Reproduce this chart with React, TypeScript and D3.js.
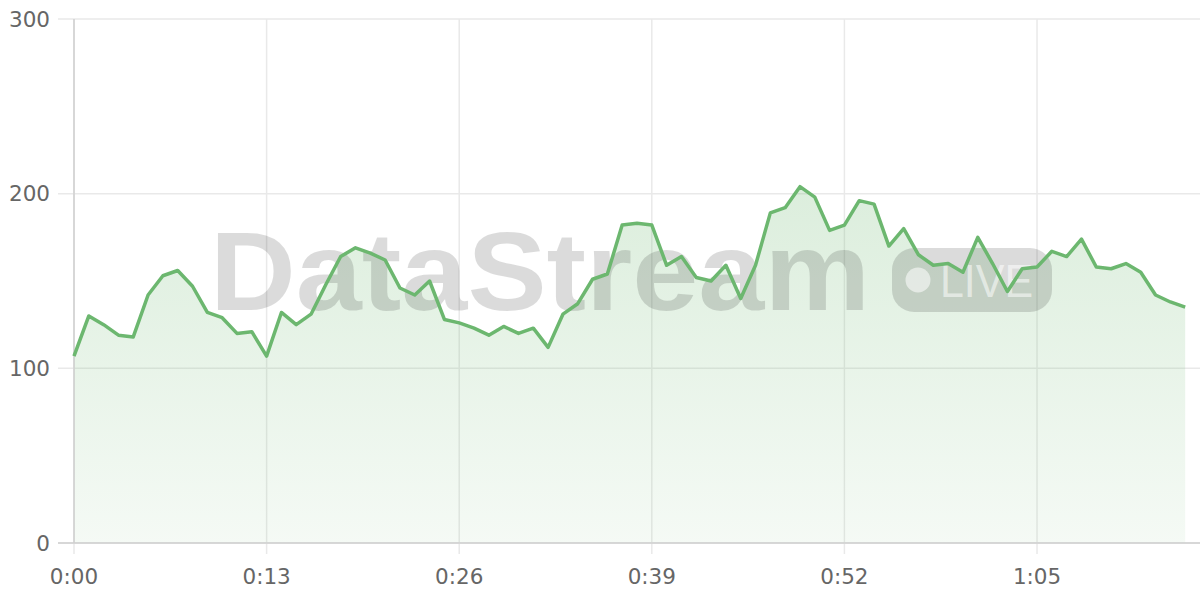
import React from "react";
import * as d3 from "d3";

const seconds: number[] = Array.from({ length: 76 }, (_, i) => i);
const values: number[] = [
  107, 130, 125, 119, 118, 142, 153, 156, 147, 132,
  129, 120, 121, 107, 132, 125, 131, 148, 164, 169,
  166, 162, 146, 142, 150, 128, 126, 123, 119, 124,
  120, 123, 112, 131, 137, 151, 154, 182, 183, 182,
  159, 164, 152, 150, 159, 140, 159, 189, 192, 204,
  198, 179, 182, 196, 194, 170, 180, 165, 159, 160,
  155, 175, 160, 144, 157, 158, 167, 164, 174, 158,
  157, 160, 155, 142, 138, 135,
];
const yTicks: number[] = [0, 100, 200, 300];
const xTicks: number[] = [0, 13, 26, 39, 52, 65];
const watermark = "DataStream";
const badge = "LIVE";

const W = 1200;
const H = 600;
const left = 74;
const right = 1200;
const top = 19;
const bottom = 543;

const fmt = (s: number) => `${Math.floor(s / 60)}:${String(s % 60).padStart(2, "0")}`;

export default function App() {
  const x = d3.scaleLinear().domain([0, 76]).range([left, right]);
  const y = d3.scaleLinear().domain([0, 300]).range([bottom, top]);
  const pts = seconds.map((s, i) => [s, values[i]] as [number, number]);
  const line = d3.line<[number, number]>().x((d) => x(d[0])).y((d) => y(d[1]));
  const area = d3
    .area<[number, number]>()
    .x((d) => x(d[0]))
    .y0(y(0))
    .y1((d) => y(d[1]));
  const font = "'DejaVu Sans', sans-serif";
  return (
    <svg width={W} height={H} style={{ position: "absolute", left: 0, top: 0 }}>
      <defs>
        <linearGradient id="ag" gradientUnits="userSpaceOnUse" x1="0" y1={y(205)} x2="0" y2={y(0)}>
          <stop offset="0%" stopColor="rgb(108,183,111)" stopOpacity={0.24} />
          <stop offset="100%" stopColor="rgb(108,183,111)" stopOpacity={0.07} />
        </linearGradient>
      </defs>
      <rect width={W} height={H} fill="#fff" />
      {yTicks.map((t) => (
        <line key={"hy" + t} x1={left - 16} x2={right} y1={y(t)} y2={y(t)} stroke="#e9e9e9" strokeWidth={1.5} />
      ))}
      {xTicks.map((t) => (
        <line key={"vx" + t} x1={x(t)} x2={x(t)} y1={top} y2={bottom + 11} stroke="#e9e9e9" strokeWidth={1.5} />
      ))}
      <path d={area(pts) || ""} fill="url(#ag)" />
      <text
        x={210}
        y={310}
        fontFamily="'Liberation Sans', Arial, sans-serif"
        fontWeight="bold"
        fontSize={112}
        textLength={660}
        lengthAdjust="spacingAndGlyphs"
        fill="rgba(0,0,0,0.14)"
      >
        {watermark}
      </text>
      <rect x={892} y={248} width={160} height={64} rx={22} fill="rgba(0,0,0,0.14)" />
      <circle cx={918} cy={280} r={12.5} fill="rgba(255,255,255,0.55)" />
      <text
        x={940}
        y={297}
        fontFamily="'Liberation Sans', Arial, sans-serif"
        fontSize={47}
        textLength={93}
        lengthAdjust="spacingAndGlyphs"
        fill="rgba(255,255,255,0.55)"
      >
        {badge}
      </text>
      <line x1={left} x2={left} y1={top} y2={bottom} stroke="#cfcfcf" strokeWidth={1.5} />
      <line x1={left - 16} x2={right} y1={bottom} y2={bottom} stroke="#cfcfcf" strokeWidth={1.5} />
      <path d={line(pts) || ""} fill="none" stroke="#6cb76f" strokeWidth={3.5} strokeLinejoin="round" />
      {yTicks.map((t) => (
        <text key={"ly" + t} x={50} y={y(t)} dy="0.36em" textAnchor="end" fontFamily={font} fontSize={21.5} fill="#666">
          {t}
        </text>
      ))}
      {xTicks.map((t) => (
        <text key={"lx" + t} x={x(t)} y={584} textAnchor="middle" fontFamily={font} fontSize={21.5} fill="#666">
          {fmt(t)}
        </text>
      ))}
    </svg>
  );
}
